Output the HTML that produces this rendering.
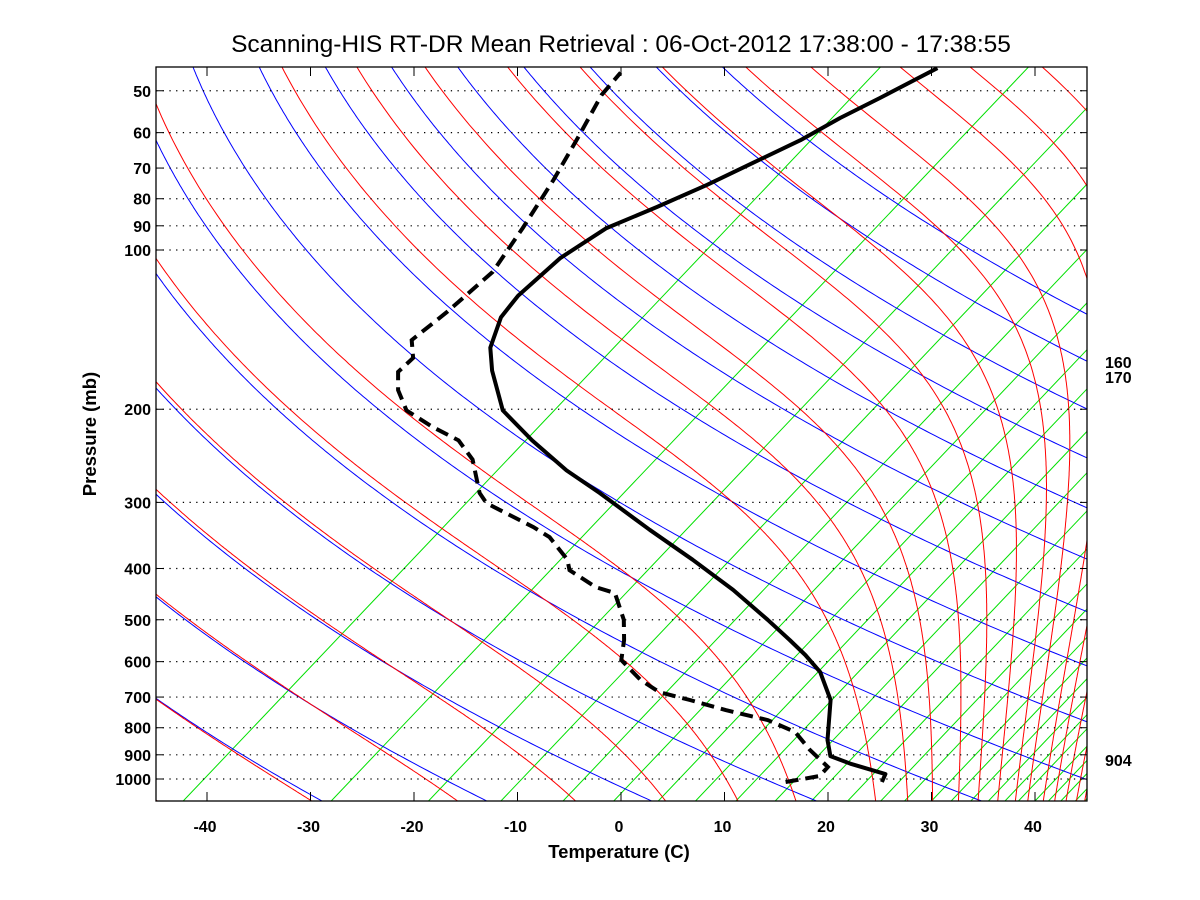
<!DOCTYPE html>
<html><head><meta charset="utf-8">
<style>
html,body{margin:0;padding:0;background:#fff;}
svg{display:block;}
text{font-family:"Liberation Sans",Arial,sans-serif;}
.tick{font-size:16px;font-weight:bold;fill:#000;}
</style></head>
<body>
<svg id="chart" width="1200" height="900" viewBox="0 0 1200 900" xmlns="http://www.w3.org/2000/svg">
<rect x="0" y="0" width="1200" height="900" fill="#fff"/>
<text x="621" y="52" text-anchor="middle" font-size="24.5">Scanning-HIS RT-DR Mean Retrieval : 06-Oct-2012 17:38:00 - 17:38:55</text>
<defs><clipPath id="plotclip"><rect x="156" y="67" width="931" height="734"/></clipPath></defs>
<g id="bg" clip-path="url(#plotclip)"></g>
<g id="grid"></g>
<g id="traces" clip-path="url(#plotclip)"></g>
<rect x="156" y="67" width="931" height="734" fill="none" stroke="#000" stroke-width="1.3"/>
<g id="axes"></g>
<text x="619" y="858" text-anchor="middle" font-size="18.5" font-weight="bold">Temperature (C)</text>
<text transform="translate(96,434) rotate(-90)" text-anchor="middle" font-size="18.5" font-weight="bold">Pressure (mb)</text>
<text x="1105" y="368" font-size="16" font-weight="bold">160</text>
<text x="1105" y="383" font-size="16" font-weight="bold">170</text>
<text x="1105" y="766" font-size="16" font-weight="bold">904</text>
</svg>
<script>
// ---- data ----
const tempPressure = [1013,979,937,905,844,709,628,583,546,500,439,385,338,288,261,229,201,169,153,134,122,103.5,90.9,82.9,75.3,68.5,62.0,56.3,51.6,45.3];
const tempValues   = [25.6,24.9,20.3,17.2,14.8,9.8,5.1,1.4,-2.1,-6.9,-14.2,-22.1,-30.2,-39.9,-46.1,-53.4,-60.2,-66.5,-69.7,-72.7,-73.9,-74.8,-74.3,-72.2,-70.3,-68.8,-67.2,-66.3,-65.1,-63.5];
const dewPressure  = [1013,987,949,881,815,774,741,709,685,650,596,546,500,445,434,403,385,349,334,301,288,249,229,216,201,184,170,160,148,131,110,90.9,73.7,61.4,50.9,46.2];
const dewValues    = [16.3,18.8,18.4,14.4,10.6,6.4,1.0,-3.8,-7.8,-11.2,-15.7,-18.1,-20.8,-25.2,-27.8,-32.6,-34.2,-38.9,-41.8,-49.5,-51.5,-56.6,-60.5,-64.8,-69.5,-73.0,-75.4,-75.8,-78.3,-78.6,-79.5,-82.4,-85.8,-89.0,-92.4,-93.5];
const dryThetas    = [163,178.5,194,209.5,225,240.5,256,271.5,287,302.5,318,333.5,349,364.5,380,395.5,411,426.5,442,457.5];
const moistBaseT   = [-105.6,-89.7,-73.8,-57.9,-41.9,-27.0,-12.9,-1.5,7.2,14.2,19.8,27.5,30.6,33.0,35.5,37.4,39.3,41.0,42.2,43.7,44.8,45.9,46.9,47.7];
const greenBaseT   = [-42.3,-28.0,-18.6,-11.6,-5.6,-0.7,3.6,7.2,11.1,14.9,18.4,21.9,25.1,27.4,30.0,31.9,33.8,35.5,37.1,38.4,40.0,41.3,42.5,43.9,44.8];
const xTicks       = [-40,-30,-20,-10,0,10,20,30,40];
const yTicks       = [50,60,70,80,90,100,200,300,400,500,600,700,800,900,1000];

// ---- scales ----
const SKEW = 70, PX = 10.35, X0 = 621, Y100 = 250, DEC = 529;
const GREEN_SLOPE = 0.95; // px of x per px of y for the green guide lines
function yOf(p){ return Y100 + DEC*Math.log10(p/100); }
function xOf(T,p){ return X0 + PX*(T + SKEW*Math.log10(1000/p)); }
const NS = "http://www.w3.org/2000/svg";
function mk(tag, attrs, parent){ const e=document.createElementNS(NS,tag); for(const k in attrs) e.setAttribute(k,attrs[k]); parent.appendChild(e); return e; }
function pathFrom(pts){ return pts.map((q,i)=>(i?"L":"M")+xOf(q[1],q[0]).toFixed(1)+" "+yOf(q[0]).toFixed(1)).join(""); }
function pList(){ const a=[]; for(let l=Math.log(1100); l>=Math.log(44); l-=0.01) a.push(Math.exp(l)); return a; }
const bg = document.getElementById('bg');

function es(Tc){ return 6.112*Math.exp(17.67*Tc/(Tc+243.5)); }
// green guide lines (straight)
greenBaseT.forEach(t=>{
  const xb = X0 + PX*t, yb = 801, yt = 60;
  const el = mk('line',{x1:xb,y1:yb,x2:xb+GREEN_SLOPE*(yb-yt),y2:yt,stroke:'#00e000','stroke-width':1},bg);
  
  
});
// dry adiabats
dryThetas.forEach(th=>{
  const pts = pList().map(p=>[p, th*Math.pow(p/1000,0.2857)-273.15]);
  const el = mk('path',{d:pathFrom(pts),fill:'none',stroke:'#0000ff','stroke-width':1},bg);
  
  
});
// moist adiabats
function dTdp(p,T){ const Tc=T-273.15; const e=es(Tc); const rs=0.622*e/Math.max(p-e,1); const L=2.5e6;
  return (287*T + L*rs)/(p*(1004 + L*L*rs*0.622/(287*T*T))); }
moistBaseT.forEach(t0=>{
  let T=t0+273.15, p=1100; const pts=[]; const h=-2;
  while(p>=44){ pts.push([p,T-273.15]); const k1=dTdp(p,T); const k2=dTdp(p+h,T+h*k1); T+=h*(k1+k2)/2; p+=h; }
  const el = mk('path',{d:pathFrom(pts),fill:'none',stroke:'#ff0000','stroke-width':1},bg);
  
  
});

// grid + axes
const grid = document.getElementById('grid'), axes = document.getElementById('axes');
yTicks.forEach(p=>{
  const y=yOf(p);
  const g = mk('line',{x1:156,x2:1087,y1:y,y2:y,stroke:'#000','stroke-width':1.2,'stroke-dasharray':'1.3 5.4'},grid);
  
  
  const t1 = mk('line',{x1:156,x2:163,y1:y,y2:y,stroke:'#000','stroke-width':1},axes);
  
  
  const t2 = mk('line',{x1:1080,x2:1087,y1:y,y2:y,stroke:'#000','stroke-width':1},axes);
  
  
  const lb = mk('text',{x:151,y:y+6,'text-anchor':'end','class':'tick'},axes);
  lb.textContent = p;
  
  
});
xTicks.forEach(T=>{
  const x=X0+PX*T;
  const t1 = mk('line',{x1:x,x2:x,y1:801,y2:792,stroke:'#000','stroke-width':1},axes);
  
  
  const t2 = mk('line',{x1:x,x2:x,y1:67,y2:76,stroke:'#000','stroke-width':1},axes);
  
  
  const lb = mk('text',{x:x-2,y:832,'text-anchor':'middle','class':'tick'},axes);
  lb.textContent = T;
  
  
});

// sounding traces
const tr = document.getElementById('traces');
const tp = mk('path',{d:pathFrom(tempPressure.map((p,i)=>[p,tempValues[i]])),fill:'none',stroke:'#000','stroke-width':4,'stroke-linejoin':'round'},tr);


const dp = mk('path',{d:pathFrom(dewPressure.map((p,i)=>[p,dewValues[i]])),fill:'none',stroke:'#000','stroke-width':4,'stroke-dasharray':'13 7'},tr);


</script>
</body></html>
